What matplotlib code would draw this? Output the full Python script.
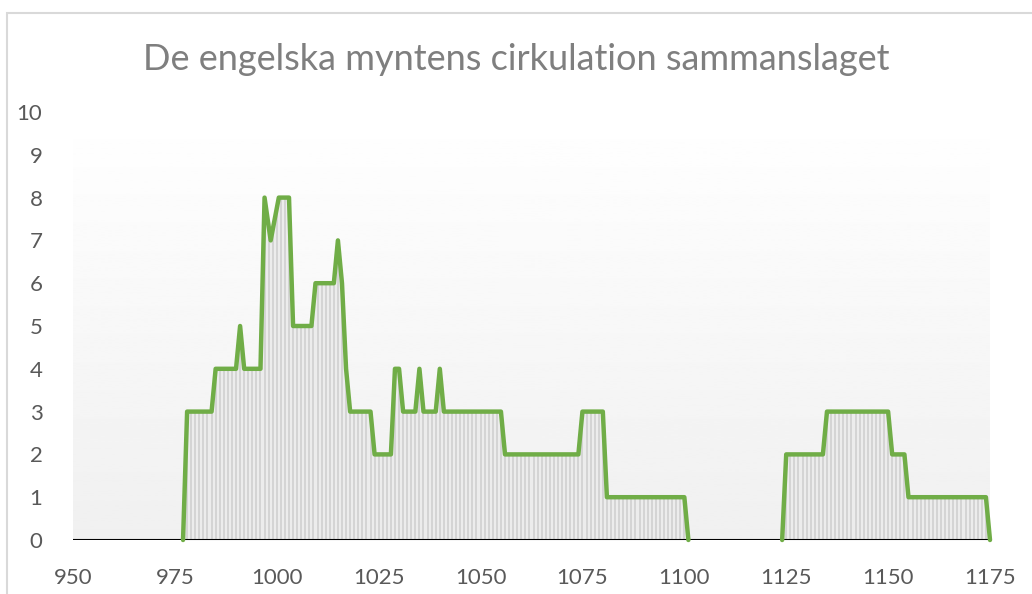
import numpy as np
import matplotlib
matplotlib.use('Agg')
import matplotlib.pyplot as plt
from matplotlib.patches import Rectangle

# data: year -> number of coin types in circulation (two periods)
years_a = [977, 978, 984, 985, 990, 991, 992, 996, 997, 998.5, 1000.5, 1003, 1004,
           1008.5, 1009.5, 1014, 1015, 1016, 1017, 1018, 1023, 1024, 1028, 1029,
           1030, 1031, 1034, 1035, 1036, 1039, 1040, 1041, 1055, 1056, 1074, 1075,
           1080, 1081, 1100, 1101]
count_a = [0, 3, 3, 4, 4, 5, 4, 4, 8, 7, 8, 8, 5,
           5, 6, 6, 7, 6, 4, 3, 3, 2, 2, 4,
           4, 3, 3, 4, 3, 3, 4, 3, 3, 2, 2, 3,
           3, 1, 1, 0]
years_b = [1124, 1125, 1134, 1135, 1150, 1151, 1154, 1155, 1174, 1175]
count_b = [0, 2, 2, 3, 3, 2, 2, 1, 1, 0]

title = "De engelska myntens cirkulation sammanslaget"
xticks = [950, 975, 1000, 1025, 1050, 1075, 1100, 1125, 1150, 1175]

plt.rcParams['font.family'] = ['Lato', 'DejaVu Sans']

fig = plt.figure(figsize=(10.32, 5.94), dpi=100)
ax = fig.add_axes([73/1032, 54/594, 917/1032, 428/594])

# gradient plot background
grad = np.linspace(0.94, 1.0, 256).reshape(-1, 1)
ax.imshow(grad, extent=[950, 1175, 0, 10], origin='lower', cmap='gray',
          vmin=0, vmax=1, aspect='auto', zorder=0)

green = '#70ad47'
for xs, ys in [(years_a, count_a), (years_b, count_b)]:
    xs = np.array(xs, dtype=float)
    ys = np.array(ys, dtype=float)
    ax.fill_between(xs, ys, 0, color='#ececec', lw=0, zorder=1)
    # vertical stripes, one per year
    vx = np.arange(np.ceil(xs[0]), xs[-1] + 0.01, 1.0)
    ax.vlines(vx, 0, np.interp(vx, xs, ys), color='#d2d2d2', lw=1.3, zorder=2)
    ax.plot(xs, ys, color=green, lw=3.2, solid_joinstyle='round',
            solid_capstyle='round', zorder=4, clip_on=False)

ax.axhline(0, color='black', lw=1.5, zorder=3)

ax.set_xlim(950, 1175)
ax.set_ylim(0, 10)
ax.set_xticks(xticks)
ax.set_yticks(range(0, 11))
ax.tick_params(length=0, labelsize=16, labelcolor='#595959')
ax.tick_params(axis='x', pad=20)
ax.tick_params(axis='y', pad=22)
for s in ax.spines.values():
    s.set_visible(False)

fig.text(0.5, 1 - 59/594, title, ha='center', va='center', fontsize=26,
         color='#7f7f7f')

# chart frame
fig.patches.append(Rectangle((7/1032, -0.1), 1.2, 1 - 13/594 + 0.1,
                             transform=fig.transFigure, fill=False,
                             edgecolor='#d9d9d9', lw=1.5))

fig.savefig('out.png', dpi=100)
